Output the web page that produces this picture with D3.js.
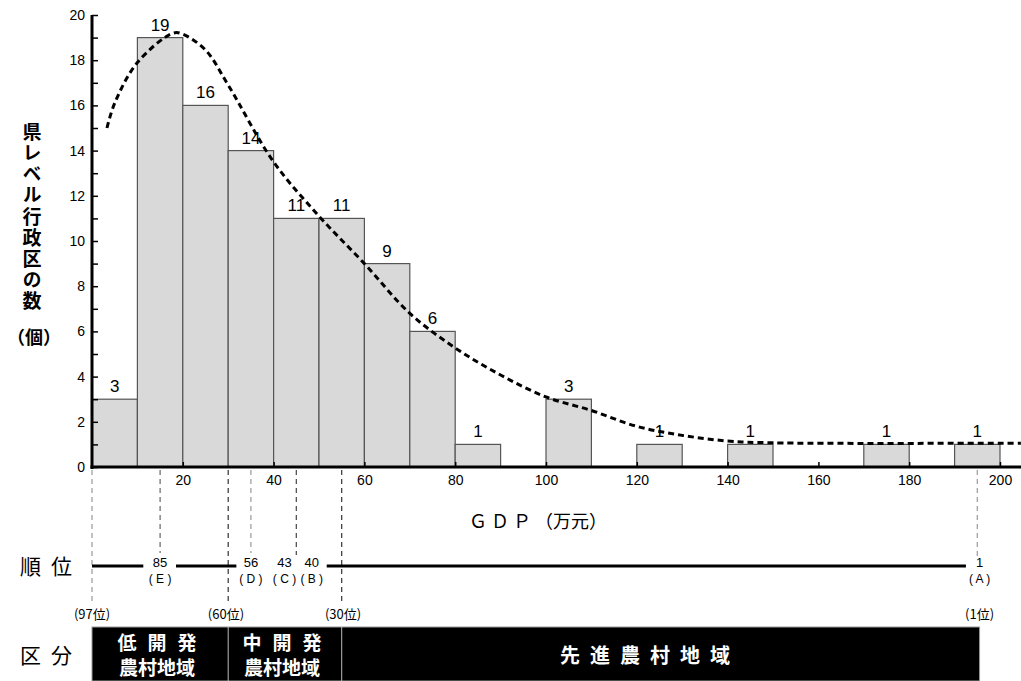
<!DOCTYPE html>
<html>
<head>
<meta charset="utf-8">
<script src="https://cdn.jsdelivr.net/npm/d3@7"></script>
<style>
  body { margin: 0; background: #fff; }
  svg { display: block; }
</style>
</head>
<body>
<script>
// bins of 10万元, counts of county-level districts
const binStart = [0, 10, 20, 30, 40, 50, 60, 70, 80, 90, 100, 110, 120, 130, 140, 150, 160, 170, 180, 190];
const counts = [3, 19, 16, 14, 11, 11, 9, 6, 1, 0, 3, 0, 1, 0, 1, 0, 0, 1, 0, 1];

// dashed fitted curve
const curveX = [3.3, 5, 10, 17.9, 20, 25, 30, 40, 50, 60, 70, 80, 90, 100, 110, 120, 130, 140, 150, 200, 204.6];
const curveY = [15.0, 16.1, 17.9, 19.2, 19.15, 18.45, 16.9, 13.5, 11.1, 9.0, 6.8, 5.27, 4.07, 3.1, 2.5, 1.8, 1.4, 1.15, 1.07, 1.05, 1.05];

const xTicks = [20, 40, 60, 80, 100, 120, 140, 160, 180, 200];

// rank markers below the axis
const markGDP = [0, 15, 30, 35, 45, 55, 195];
const markColor = ['#999', '#666', '#333', '#999', '#444', '#333', '#999'];
const markEnd = [603, 553, 603, 553, 555, 603, 557];
const rankLabels = [
  { gdp: 15, rank: '85', id: '( E )' },
  { gdp: 35, rank: '56', id: '( D )' },
  { gdp: 42.4, rank: '43', id: '( C )' },
  { gdp: 48.4, rank: '40', id: '( B )' },
  { gdp: 195.5, rank: '1', id: '( A )' },
];
const rankEnds = [{ gdp: 0, t: '(97位)' }, { gdp: 29.5, t: '(60位)' }, { gdp: 55.3, t: '(30位)' }, { gdp: 195.5, t: '(1位)' }];
const rankLineSegs = [[0, 11.3], [18.5, 31.8], [51.7, 192.5]];

// classification band
const zones = [
  { from: 0, to: 30, lines: ['低開発', '農村地域'], sp: [11, 0] },
  { from: 30, to: 55, lines: ['中開発', '農村地域'], sp: [11, 0] },
  { from: 55, to: 195.5, lines: ['先進農村地域'], sp: [10] },
];

const W = 1021, H = 681;
const numFont = '"Liberation Sans", Arial, sans-serif';
const jpFont = '"Noto Sans CJK JP", "Noto Sans", sans-serif';

const svg = d3.select('body').append('svg').attr('width', W).attr('height', H);

const x = d3.scaleLinear([0, 200], [92, 1000]);
const y = d3.scaleLinear([0, 20], [467, 15]);

const bins = binStart.map((s, i) => ({ s, c: counts[i] })).filter(d => d.c > 0);

// bars
svg.append('g').selectAll('rect')
  .data(bins)
  .join('rect')
  .attr('x', d => x(d.s))
  .attr('y', d => y(d.c))
  .attr('width', d => x(d.s + 10) - x(d.s))
  .attr('height', d => y(0) - y(d.c))
  .attr('fill', '#d9d9d9')
  .attr('stroke', '#555')
  .attr('stroke-width', 1.2);

// bar labels
svg.append('g').selectAll('text')
  .data(bins)
  .join('text')
  .attr('x', d => x(d.s + 5))
  .attr('y', d => y(d.c) - 7)
  .attr('text-anchor', 'middle')
  .style('font', `17px ${numFont}`)
  .text(d => d.c);

// dashed curve
const line = d3.line().x(d => x(d[0])).y(d => y(d[1])).curve(d3.curveCatmullRom);
svg.append('path')
  .attr('d', line(curveX.map((v, i) => [v, curveY[i]])))
  .attr('fill', 'none')
  .attr('stroke', '#000')
  .attr('stroke-width', 3)
  .attr('stroke-dasharray', '6 4');

// y axis
const yAxis = d3.axisLeft(y).tickValues(d3.range(0, 21)).tickSize(-6).tickPadding(7)
  .tickFormat(d => (d % 2 ? '' : d));
const gy = svg.append('g').attr('transform', `translate(${x(0)},0)`).call(yAxis);
gy.select('.domain').remove();
gy.selectAll('line').attr('stroke-width', 1.5);
gy.selectAll('text').style('font', `14px ${numFont}`);
svg.append('line')
  .attr('x1', x(0)).attr('x2', x(0)).attr('y1', y(20)).attr('y2', y(0) + 2)
  .attr('stroke', '#000').attr('stroke-width', 3);

// x axis
const xAxis = d3.axisBottom(x).tickValues(xTicks).tickSize(-5).tickPadding(8);
const gx = svg.append('g').attr('transform', `translate(0,${y(0)})`).call(xAxis);
gx.select('.domain').remove();
gx.selectAll('line').attr('stroke-width', 1.5);
gx.selectAll('text').style('font', `14px ${numFont}`);
svg.append('line')
  .attr('x1', x(0) - 1.5).attr('x2', W).attr('y1', y(0)).attr('y2', y(0))
  .attr('stroke', '#000').attr('stroke-width', 3);

// y axis title (vertical)
svg.append('text')
  .attr('x', 32).attr('y', 122)
  .style('writing-mode', 'vertical-rl')
  .style('font', `bold 19px ${jpFont}`)
  .style('letter-spacing', '2.2px')
  .text('県レベル行政区の数');
svg.append('text')
  .attr('x', 34).attr('y', 344)
  .attr('text-anchor', 'middle')
  .style('font', `bold 18px ${jpFont}`)
  .text('（個）');

// x axis title
svg.append('text')
  .attr('x', 538).attr('y', 528)
  .attr('text-anchor', 'middle')
  .style('font', `18px ${jpFont}`)
  .text('Ｇ Ｄ Ｐ （万元）');

// rank marker lines
svg.append('g').selectAll('line')
  .data(markGDP)
  .join('line')
  .attr('x1', d => x(d)).attr('x2', d => x(d))
  .attr('y1', y(0) + 3)
  .attr('y2', (d, i) => markEnd[i])
  .attr('stroke', (d, i) => markColor[i])
  .attr('stroke-width', 1.2)
  .attr('stroke-dasharray', '5 4');

// rank line
svg.append('text').attr('x', 20).attr('y', 574)
  .style('font', `21px ${jpFont}`).style('letter-spacing', '10px').text('順位');
svg.append('g').selectAll('line')
  .data(rankLineSegs)
  .join('line')
  .attr('x1', d => x(d[0])).attr('x2', d => x(d[1]))
  .attr('y1', 566).attr('y2', 566)
  .attr('stroke', '#000').attr('stroke-width', 3);
const rl = svg.append('g').selectAll('g').data(rankLabels).join('g');
rl.append('text').attr('x', d => x(d.gdp)).attr('y', 567)
  .attr('text-anchor', 'middle').style('font', `13px ${numFont}`).text(d => d.rank);
rl.append('text').attr('x', d => x(d.gdp)).attr('y', 583)
  .attr('text-anchor', 'middle').style('font', `12px ${numFont}`)
  .text(d => d.id);
svg.append('g').selectAll('text')
  .data(rankEnds)
  .join('text')
  .attr('x', d => x(d.gdp)).attr('y', 619)
  .attr('text-anchor', 'middle')
  .style('font', `13px ${jpFont}`)
  .text(d => d.t);

// classification band
svg.append('text').attr('x', 20).attr('y', 663)
  .style('font', `21px ${jpFont}`).style('letter-spacing', '10px').text('区分');
svg.append('rect')
  .attr('x', x(0)).attr('y', 627)
  .attr('width', x(195.5) - x(0)).attr('height', H - 627)
  .attr('fill', '#000').attr('stroke', '#999').attr('stroke-width', 1);
svg.append('g').selectAll('line')
  .data(zones.slice(1))
  .join('line')
  .attr('x1', d => x(d.from)).attr('x2', d => x(d.from))
  .attr('y1', 627).attr('y2', H)
  .attr('stroke', '#bbb').attr('stroke-width', 1);
svg.append('g').selectAll('text')
  .data(zones)
  .join('text')
  .attr('y', d => (d.lines.length > 1 ? 650 : 663))
  .attr('text-anchor', 'middle')
  .attr('fill', '#fff')
  .style('font', d => `bold ${d.lines.length > 1 ? 19 : 20}px ${jpFont}`)
  .each(function (d) {
    const cx = d.lines.length > 1 ? (x(d.from) + x(d.to)) / 2 - 3 : 645;
    d3.select(this).selectAll('tspan')
      .data(d.lines)
      .join('tspan')
      .attr('x', (t, i) => cx + d.sp[i] / 2)
      .attr('dy', (t, i) => (i ? 25 : 0))
      .style('letter-spacing', (t, i) => `${d.sp[i]}px`)
      .text(t => t);
  });
</script>
</body>
</html>
